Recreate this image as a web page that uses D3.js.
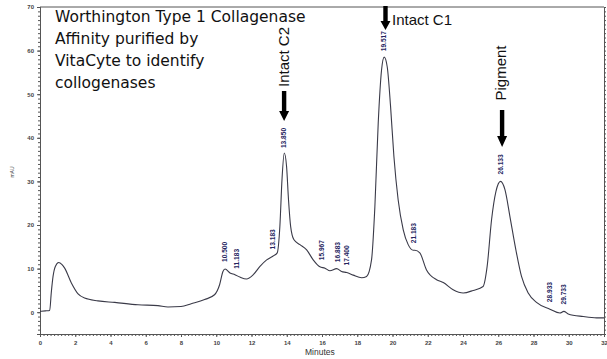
<!DOCTYPE html>
<html>
<head>
<meta charset="utf-8">
<script src="https://cdn.jsdelivr.net/npm/d3@7"></script>
<style>
  body { margin: 0; background: #fff; }
  svg { display: block; }
</style>
</head>
<body>
<div id="chart"></div>
<script>
// trace (minutes, mAU)
const times = [0, 0.3, 0.55, 0.64, 0.74, 0.87, 1.06, 1.25, 1.4, 1.78, 2.16, 2.53, 3.29, 4.24, 5.56, 6.69, 7.26, 8.0, 8.58, 9.34, 9.9, 10.19, 10.38, 10.5,
  10.78, 11.06, 11.34, 11.72, 12.1, 12.48, 12.86, 13.23, 13.46, 13.61, 13.73, 13.86, 13.99, 14.1, 14.22, 14.41, 14.75, 15.13, 15.5, 15.88, 16.17, 16.45,
  16.83, 17.11, 17.4, 17.77, 18.25, 18.53, 18.81, 19.0, 19.19, 19.38, 19.53, 19.7, 19.89, 20.08, 20.32, 20.61, 20.89, 21.18, 21.27, 21.55, 21.93, 22.5,
  22.88, 23.44, 24.01, 24.58, 25.14, 25.37, 25.62, 25.87, 26.13, 26.38, 26.66, 27.0, 27.32, 27.7, 28.17, 28.93, 29.5, 29.72, 29.97, 30.82, 31.58, 32];
const mau = [0.2, 0.3, 0.4, 4.5, 8.2, 10.5, 11.4, 10.9, 10.1, 6.7, 4.2, 3.25, 2.6, 2.25, 1.7, 1.5, 1.2, 1.3, 1.95, 2.9, 4.0, 6.3, 9.35, 9.9,
  9.0, 8.6, 8.05, 7.6, 8.6, 10.5, 12.0, 12.9, 13.6, 19.7, 30.4, 36.5, 33.4, 25.8, 19.7, 16.6, 15.5, 14.3, 12.0, 10.4, 10.1, 9.5,
  10.0, 9.35, 9.1, 8.5, 7.9, 8.2, 12.0, 24.2, 43.4, 55.6, 58.5, 56.3, 47.2, 35.7, 25.8, 18.9, 15.5, 14.2, 14.2, 13.6, 9.7, 7.45,
  6.8, 5.15, 4.4, 5.0, 5.9, 10.5, 21.2, 27.7, 30.0, 28.1, 22.0, 14.3, 8.2, 4.4, 2.25, 0.7, -0.2, 0.2, -0.4, -1.0, -1.3, -1.3];

const peakTimes = [10.500, 11.183, 13.183, 13.850, 15.967, 16.883, 17.400, 19.517, 21.183, 26.133, 28.933, 29.733];
const peakLabels = ["10.500", "11.183", "13.183", "13.850", "15.967", "16.883", "17.400", "19.517", "21.183", "26.133", "28.933", "29.733"];

const xTicks = d3.range(0, 33, 2);
const yTicks = d3.range(0, 71, 10);
const titleLines = ["Worthington Type 1 Collagenase", "Affinity purified by", "VitaCyte to identify", "collogenases"];

const W = 607, H = 359;
const svg = d3.select("#chart").append("svg").attr("width", W).attr("height", H);

const x = d3.scaleLinear().domain([0, 32]).range([40, 604]);
const y = d3.scaleLinear().domain([-5, 70]).range([334, 7]);

const axisColor = "#555";
const tickFont = "bold 6px 'Liberation Sans', Arial, sans-serif";

function styleAxis(g) {
  g.select(".domain").attr("stroke", axisColor);
  g.selectAll(".tick line").attr("stroke", axisColor);
  g.selectAll(".tick text").attr("fill", "#444").style("font", tickFont);
}

// minor ticks first
svg.append("g").attr("transform", `translate(0,${y(-5)})`)
  .call(d3.axisBottom(x).tickValues(d3.range(0, 32.01, 0.2)).tickSize(2).tickFormat(""))
  .call(styleAxis);
svg.append("g").attr("transform", `translate(${x(0)},0)`)
  .call(d3.axisLeft(y).tickValues(d3.range(-5, 70.01, 1)).tickSize(2).tickFormat(""))
  .call(styleAxis);
svg.append("g").attr("transform", `translate(${x(32)},0)`)
  .call(d3.axisRight(y).tickValues(d3.range(-5, 70.01, 1)).tickSize(2).tickFormat(""))
  .call(styleAxis);

// major ticks + labels
svg.append("g").attr("transform", `translate(0,${y(-5)})`)
  .call(d3.axisBottom(x).tickValues(xTicks).tickSize(3).tickPadding(4).tickFormat(d3.format("d")))
  .call(styleAxis);
svg.append("g").attr("transform", `translate(${x(0)},0)`)
  .call(d3.axisLeft(y).tickValues(yTicks).tickSize(3).tickPadding(3).tickFormat(d3.format("d")))
  .call(styleAxis);

// top border
svg.append("line")
  .attr("x1", x(0)).attr("x2", x(32)).attr("y1", y(70)).attr("y2", y(70))
  .attr("stroke", axisColor);

// axis titles
svg.append("text").attr("x", 305).attr("y", 355)
  .attr("fill", "#333").style("font", "8.5px 'Liberation Sans', Arial, sans-serif")
  .text("Minutes");
svg.append("text").attr("transform", "translate(14,172) rotate(-90)")
  .attr("text-anchor", "middle")
  .attr("fill", "#444").style("font", "5px 'Liberation Sans', Arial, sans-serif")
  .text("mAU");

// trace
const pts = times.map((t, i) => [t, mau[i]]);
const line = d3.line().x(d => x(d[0])).y(d => y(d[1])).curve(d3.curveMonotoneX);
svg.append("path").datum(pts)
  .attr("d", line)
  .attr("fill", "none")
  .attr("stroke", "#3a3a48")
  .attr("stroke-width", 1.1);

// peak labels
const bis = d3.bisector(d => d).left;
function valueAt(t) {
  const i = Math.max(1, Math.min(times.length - 1, bis(times, t)));
  const t0 = times[i - 1], t1 = times[i];
  const k = (t - t0) / (t1 - t0);
  return mau[i - 1] + k * (mau[i] - mau[i - 1]);
}
svg.append("g").selectAll("text")
  .data(peakTimes)
  .join("text")
  .attr("transform", (t) => `translate(${x(t) + 2.3},${y(valueAt(t)) - 7}) rotate(-90)`)
  .attr("fill", "#24245e")
  .style("font", "bold 6.6px 'Liberation Sans', Arial, sans-serif")
  .text((t, i) => peakLabels[i]);

// annotation text
svg.append("g").selectAll("text")
  .data(titleLines)
  .join("text")
  .attr("x", 55)
  .attr("y", (d, i) => 22 + i * 22)
  .attr("fill", "#111")
  .style("font", "15.5px 'DejaVu Sans', Verdana, sans-serif")
  .text(d => d);

const annFont = "15px 'Liberation Sans', Arial, sans-serif";
svg.append("text").attr("transform", `translate(${x(13.85) + 5},57) rotate(-90)`)
  .attr("text-anchor", "middle").style("font", annFont).attr("fill", "#111")
  .text("Intact C2");
svg.append("text").attr("x", 392).attr("y", 25)
  .style("font", annFont).attr("fill", "#111")
  .text("Intact C1");
svg.append("text").attr("transform", `translate(${x(26.133) + 5},73) rotate(-90)`)
  .attr("text-anchor", "middle").style("font", annFont).attr("fill", "#111")
  .text("Pigment");

// arrows pointing down at the main peaks
function arrow(cx, top, tip, headLen) {
  const sw = 2.2, hw = 5;
  const hs = tip - headLen;
  return `M${cx - sw},${top}L${cx + sw},${top}L${cx + sw},${hs}L${cx + hw},${hs}L${cx},${tip}L${cx - hw},${hs}L${cx - sw},${hs}Z`;
}
svg.append("path").attr("d", arrow(x(13.85), 91, 121, 10)).attr("fill", "#000");
svg.append("path").attr("d", arrow(x(19.517) + 1.5, 6, 30, 9)).attr("fill", "#000");
svg.append("path").attr("d", arrow(x(26.133) + 1.5, 110, 147, 11)).attr("fill", "#000");
</script>
</body>
</html>
